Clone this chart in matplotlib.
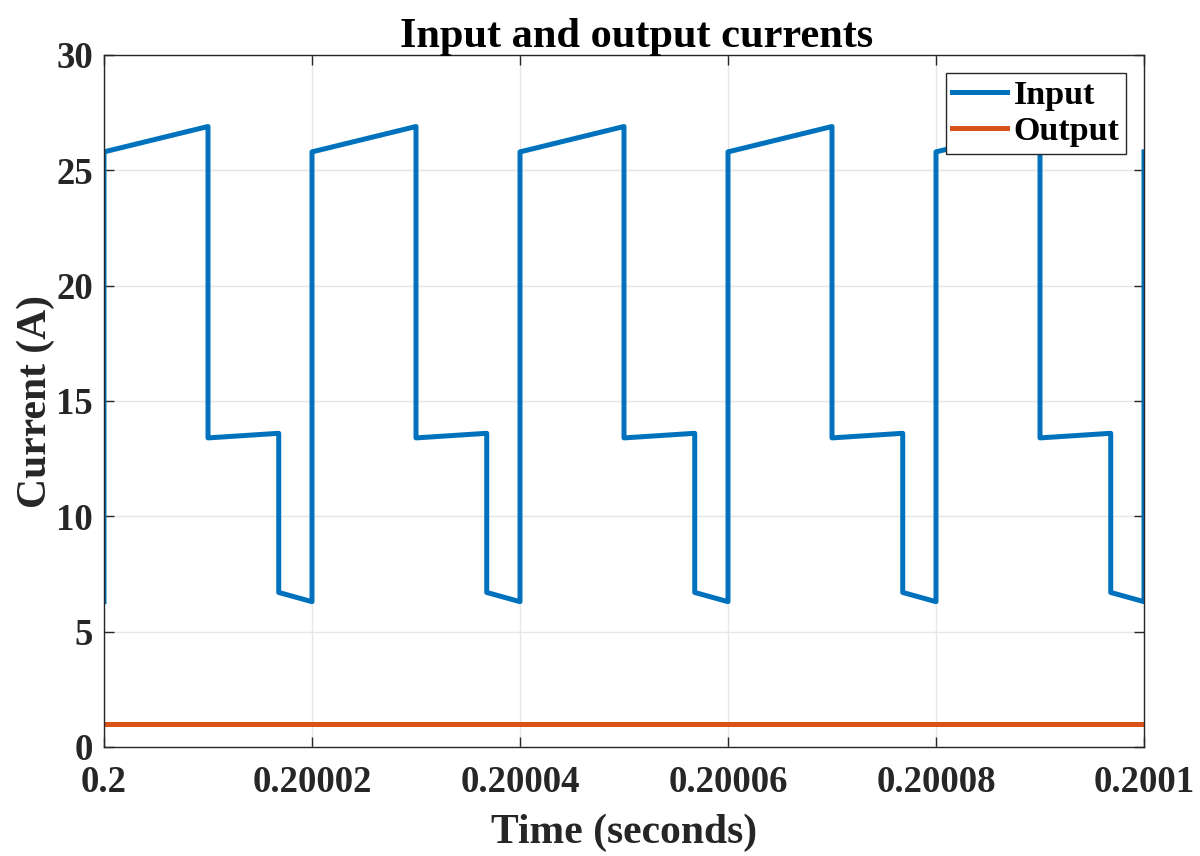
import numpy as np
import matplotlib.pyplot as plt

# switching waveform breakpoints (seconds, amps)
t_in = [0.2, 0.2, 0.20001, 0.20001, 0.2000168, 0.2000168, 0.20002,
        0.20002, 0.20003, 0.20003, 0.2000368, 0.2000368, 0.20004,
        0.20004, 0.20005, 0.20005, 0.2000568, 0.2000568, 0.20006,
        0.20006, 0.20007, 0.20007, 0.2000768, 0.2000768, 0.20008,
        0.20008, 0.20009, 0.20009, 0.2000968, 0.2000968, 0.2001,
        0.2001]
i_in = [6.3, 25.8, 26.9, 13.4, 13.6, 6.7, 6.3,
        25.8, 26.9, 13.4, 13.6, 6.7, 6.3,
        25.8, 26.9, 13.4, 13.6, 6.7, 6.3,
        25.8, 26.9, 13.4, 13.6, 6.7, 6.3,
        25.8, 26.9, 13.4, 13.6, 6.7, 6.3,
        25.8]

t_out = [0.2, 0.2001]
i_out = [1.0, 1.0]

xticks = [0.2, 0.20002, 0.20004, 0.20006, 0.20008, 0.2001]
xlabels = ["0.2", "0.20002", "0.20004", "0.20006", "0.20008", "0.2001"]
yticks = [0, 5, 10, 15, 20, 25, 30]

plt.rcParams['font.family'] = ['Liberation Serif', 'DejaVu Serif']
plt.rcParams['font.weight'] = 'bold'

fig = plt.figure(figsize=(12, 8.56), dpi=100)
ax = fig.add_axes([104/1200, 1 - 747/856, 1040/1200, 692/856])

ax.plot(t_in, i_in, color='#0072BD', lw=3.6, label='Input')
ax.plot(t_out, i_out, color='#D95319', lw=3.6, label='Output')

ax.set_xlim(0.2, 0.2001)
ax.set_ylim(0, 30)
ax.set_xticks(xticks)
ax.set_xticklabels(xlabels)
ax.set_yticks(yticks)
ax.tick_params(direction='in', top=True, right=True, length=7, width=1,
               color='#262626', labelsize=26.5)
ax.tick_params(axis='x', pad=13)
ax.tick_params(axis='y', pad=8)
for lab in ax.get_xticklabels() + ax.get_yticklabels():
    lab.set_fontweight('bold')
    lab.set_color('#262626')
for s in ax.spines.values():
    s.set_color('#262626')
    s.set_linewidth(1)
ax.grid(True, color='#e6e6e6', lw=1)
ax.set_axisbelow(True)

ax.set_title('Input and output currents', fontsize=30.5, fontweight='bold',
             pad=6, x=0.5125)
ax.set_xlabel('Time (seconds)', fontsize=30, fontweight='bold', labelpad=10,
              color='#262626')
ax.set_ylabel('Current (A)', fontsize=30, fontweight='bold', labelpad=1,
              color='#262626')

leg = ax.legend(loc='upper right', fontsize=24.5, fancybox=False,
                edgecolor='#262626', framealpha=1, handlelength=1.6,
                handletextpad=0.2, borderpad=0.2, labelspacing=0.15,
                borderaxespad=0, bbox_to_anchor=(0.983, 0.974))
leg.get_frame().set_linewidth(1)
for txt in leg.get_texts():
    txt.set_fontweight('bold')

fig.savefig('out.png', dpi=100)
